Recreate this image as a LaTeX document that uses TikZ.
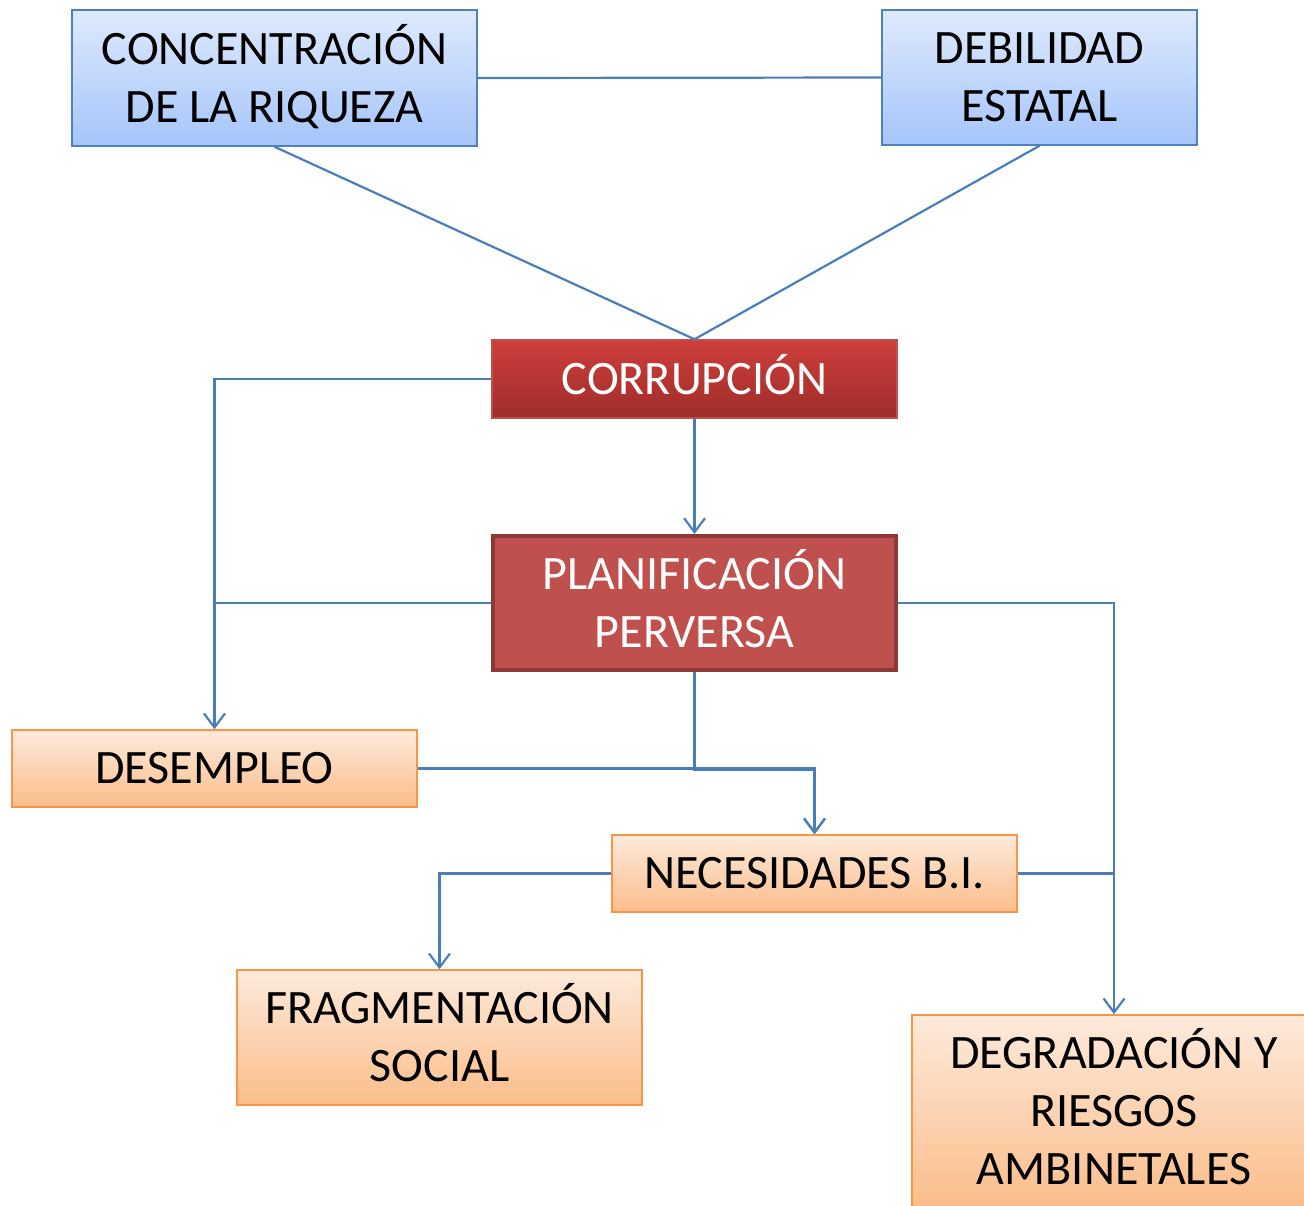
\documentclass[tikz,border=0pt]{standalone}
\usepackage{fontspec}
\setmainfont{Carlito}
\usetikzlibrary{arrows.meta}

\definecolor{linkblue}{RGB}{74,126,187}
\definecolor{boxblue}{RGB}{79,129,189}
\definecolor{redtop}{RGB}{206,62,59}
\definecolor{redbot}{RGB}{158,45,42}
\definecolor{redline}{RGB}{192,80,77}
\definecolor{reddark}{RGB}{140,56,54}
\definecolor{orline}{RGB}{247,150,70}

\tikzset{
  box/.style={rectangle, align=center, inner sep=0pt, line width=0.75pt,
    font=\fontsize{24}{29}\selectfont, text height=15.2pt, text depth=0pt},
  two lines/.style={text height=44.2pt},
  three lines/.style={text height=73.2pt},
  bluebox/.style={box, draw=boxblue, top color={rgb,255:red,222;green,234;blue,253},
    bottom color={rgb,255:red,165;green,197;blue,250}},
  redbox/.style={box, draw=redline, text=white, top color=redtop, bottom color=redbot},
  planbox/.style={box, draw=reddark, line width=2pt, fill=redline, text=white},
  orbox/.style={box, draw=orline, top color={rgb,255:red,253;green,234;blue,219},
    bottom color={rgb,255:red,251;green,189;blue,138}},
  link/.style={draw=linkblue, line width=1.1pt},
  arr/.style={link, -{Straight Barb[length=7pt, width=10.5pt, line width=1.1pt]}}
}

\begin{document}
\begin{tikzpicture}[x=0.5pt, y=-0.5pt]
    \useasboundingbox (0,0) rectangle (1304,1205);
    \clip (0,0) rectangle (1304,1205); % the last box runs off the page

    % causes
    \node[bluebox, two lines, minimum width=202.5pt, minimum height=68pt] (Conc) at (274.5,78)
        {CONCENTRACIÓN\\DE LA RIQUEZA};
    \node[bluebox, two lines, minimum width=157.5pt, minimum height=67.5pt] (Deb) at (1039.5,77.5)
        {DEBILIDAD\\ESTATAL};
    \node[redbox, minimum width=202.5pt, minimum height=39pt] (Corr) at (694.5,379)
        {CORRUPCIÓN};
    \node[planbox, two lines, minimum width=201.5pt, minimum height=67pt] (Plan) at (694.5,603)
        {PLANIFICACIÓN\\PERVERSA};

    % effects
    \node[orbox, minimum width=202.5pt, minimum height=38.5pt] (Desem) at (214.5,768.5)
        {DESEMPLEO};
    \node[orbox, minimum width=202.5pt, minimum height=38.5pt] (Nec) at (814.5,873.5)
        {NECESIDADES B.I.};
    \node[orbox, two lines, minimum width=202.5pt, minimum height=67.5pt] (Frag) at (439.5,1037.5)
        {FRAGMENTACIÓN\\SOCIAL};
    \node[orbox, three lines, minimum width=202pt, minimum height=96.5pt] (Degr) at (1114,1111.5)
        {DEGRADACIÓN Y\\RIESGOS\\AMBINETALES};

    \coordinate[yshift=-0.8pt] (Joint) at (Plan.south |- Desem.east);

    \draw[link] (Conc.east) -- (Deb.west);
    \draw[link] (Conc.south) -- (Corr.north);
    \draw[link] (Deb.south) -- (Corr.north);
    \draw[arr] (Corr.south) -- (Plan.north);
    \draw[arr] (Corr.west) -| (Desem.north);
    \draw[link] (Plan.west) -- (Plan.west -| Desem.north);
    \draw[arr] (Desem.east) -| (Nec.north);
    \draw[arr] (Plan.south) -- (Joint) -| (Nec.north);
    \draw[arr] (Plan.east) -| (Degr.north);
    \draw[link] (Nec.east) -- (Nec.east -| Degr.north);
    \draw[arr] (Nec.west) -| (Frag.north);
\end{tikzpicture}
\end{document}
